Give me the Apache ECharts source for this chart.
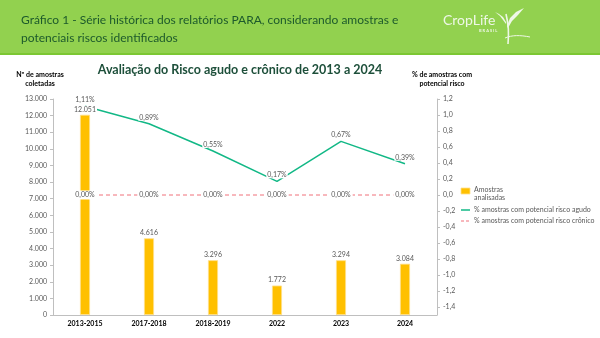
<!DOCTYPE html>
<html><head><meta charset="utf-8">
<script src="https://cdn.jsdelivr.net/npm/echarts@6/dist/echarts.min.js"></script>
<style>html,body{margin:0;padding:0;background:#fff}#c{width:600px;height:338px}</style>
</head><body><div id="c"></div>
<script>
const categories = ['2013-2015','2017-2018','2018-2019','2022','2023','2024'];
const samples = [12051, 4616, 3296, 1772, 3294, 3084];
const acuteRisk = [1.11, 0.89, 0.55, 0.17, 0.67, 0.39];
const chronicRisk = [0, 0, 0, 0, 0, 0];
const rightTicks = [-1.4,-1.2,-1.0,-0.8,-0.6,-0.4,-0.2,0,0.2,0.4,0.6,0.8,1.0,1.2];

function thou(v){ return String(Math.round(v)).replace(/\B(?=(\d{3})+(?!\d))/g,'.'); }
function pct(v){ return v.toFixed(2).replace('.',',') + '%'; }
function dec1(v){ return (Math.abs(v)<1e-9?0:v).toFixed(1).replace('.',','); }

const chart = echarts.init(document.getElementById('c'), null, {renderer:'canvas'});
const F = 'Lato, "Open Sans", sans-serif';
const grey = '#595959';
const logo = '#EEF7E6';
chart.setOption({
  animation:false,
  textStyle:{fontFamily:F},
  grid:{left:53, right:163, top:99, bottom:23},
  xAxis:{type:'category', data:categories,
    axisLine:{lineStyle:{color:'#bfbfbf', width:1}}, axisTick:{show:false},
    axisLabel:{color:'#000', fontSize:7, fontWeight:'bold', margin:5, fontFamily:F}},
  yAxis:[
    {type:'value', min:0, max:13000, interval:1000, position:'left',
     axisLine:{show:true, lineStyle:{color:'#bfbfbf'}}, axisTick:{show:true, length:3, lineStyle:{color:'#bfbfbf'}},
     splitLine:{show:false},
     axisLabel:{color:grey, fontSize:7, margin:6, formatter:v=>thou(v)}},
    {type:'value', min:-1.5, max:1.2, position:'right',
     axisLine:{show:true, lineStyle:{color:'#bfbfbf'}},
     axisTick:{show:true, length:3, customValues:rightTicks, lineStyle:{color:'#bfbfbf'}},
     splitLine:{show:false},
     axisLabel:{color:grey, fontSize:7, margin:6, customValues:rightTicks, formatter:v=>dec1(v)}}
  ],
  series:[
    {type:'bar', name:'Amostras analisadas', data:samples, yAxisIndex:0, barWidth:10, z:3,
     itemStyle:{color:'#FFC000', borderColor:'#FFE08A', borderWidth:0.8},
     label:{show:true, position:'top', distance:2, color:grey, fontSize:7, formatter:p=>thou(p.value),
       backgroundColor:'#fff', padding:[0,1]}},
    {type:'line', name:'agudo', data:acuteRisk, yAxisIndex:1, symbol:'circle', symbolSize:0.1,
     lineStyle:{color:'#12B886', width:1.5}, itemStyle:{color:'#12B886'}, z:2,
     label:{show:true, position:'top', distance:3, color:grey, fontSize:7, formatter:p=>pct(p.value),
       backgroundColor:'#fff', padding:[0,1]}},
    {type:'line', name:'cronico', data:chronicRisk, yAxisIndex:1, symbol:'circle', symbolSize:0.1,
     lineStyle:{color:'#F0707A', width:1, type:[4,3]}, itemStyle:{color:'#F0707A'}, z:4,
     label:{show:true, position:'inside', color:grey, fontSize:7, formatter:p=>pct(p.value),
       backgroundColor:'#fff', padding:[1,2]}}
  ],
  graphic:[
    {type:'rect', shape:{x:0,y:0,width:600,height:53}, style:{fill:'#92D14F'}, z:-1},
    {type:'rect', shape:{x:0,y:53,width:600,height:2}, style:{fill:'#7CC733'}, z:-1},
    {type:'text', x:21, y:11, style:{text:'Gráfico 1 - Série histórica dos relatórios PARA, considerando amostras e\npotenciais riscos identificados',
      fill:'#1D5A2C', font:'12px '+F, lineHeight:18}},
    {type:'text', x:443, y:13, style:{text:'CropLife', fill:logo, font:'14px '+F}},
    {type:'text', x:479, y:29, style:{text:'B R A S I L', fill:logo, font:'bold 4px '+F}},
    {type:'bezierCurve', shape:{x1:508,y1:44,cpx1:509,cpy1:34,cpx2:509,cpy2:26,x2:506,y2:14}, style:{stroke:logo, lineWidth:1.6, fill:null}},
    {type:'polygon', shape:{points:[[507,26],[510,18],[516,12],[524,8],[518,15],[512,21],[508,28]]}, style:{fill:logo}},
    {type:'polygon', shape:{points:[[506,22],[503,17],[499,14],[495,12],[500,16],[503,20],[506,24]]}, style:{fill:logo}},
    {type:'bezierCurve', shape:{x1:505,y1:38,cpx1:512,cpy1:35,cpx2:520,cpy2:35,x2:530,y2:37}, style:{stroke:logo, lineWidth:1, fill:null}},
    {type:'text', x:240, y:63, style:{text:'Avaliação do Risco agudo e crônico de 2013 a 2024', fill:'#1D4F3A', font:'bold 12.5px '+F, align:'center'}},
    {type:'text', x:40, y:70, style:{text:'Nº de amostras\ncoletadas', fill:'#000', font:'bold 7px '+F, align:'center', lineHeight:9}},
    {type:'text', x:442, y:70, style:{text:'% de amostras com\npotencial risco', fill:'#000', font:'bold 7px '+F, align:'center', lineHeight:9}},
    {type:'rect', shape:{x:461,y:188,width:9,height:6}, style:{fill:'#FFC000', stroke:'#FFE08A', lineWidth:0.8}},
    {type:'text', x:474, y:186, style:{text:'Amostras\nanalisadas', fill:grey, font:'7px '+F, lineHeight:8}},
    {type:'line', shape:{x1:461,y1:210,x2:470,y2:210}, style:{stroke:'#12B886', lineWidth:1.5}},
    {type:'text', x:474, y:206, style:{text:'% amostras com potencial risco agudo', fill:grey, font:'7px '+F}},
    {type:'line', shape:{x1:461,y1:221,x2:470,y2:221}, style:{stroke:'#F0707A', lineWidth:1, lineDash:[3,2]}},
    {type:'text', x:474, y:217, style:{text:'% amostras com potencial risco crônico', fill:grey, font:'7px '+F}}
  ]
});
</script></body></html>
